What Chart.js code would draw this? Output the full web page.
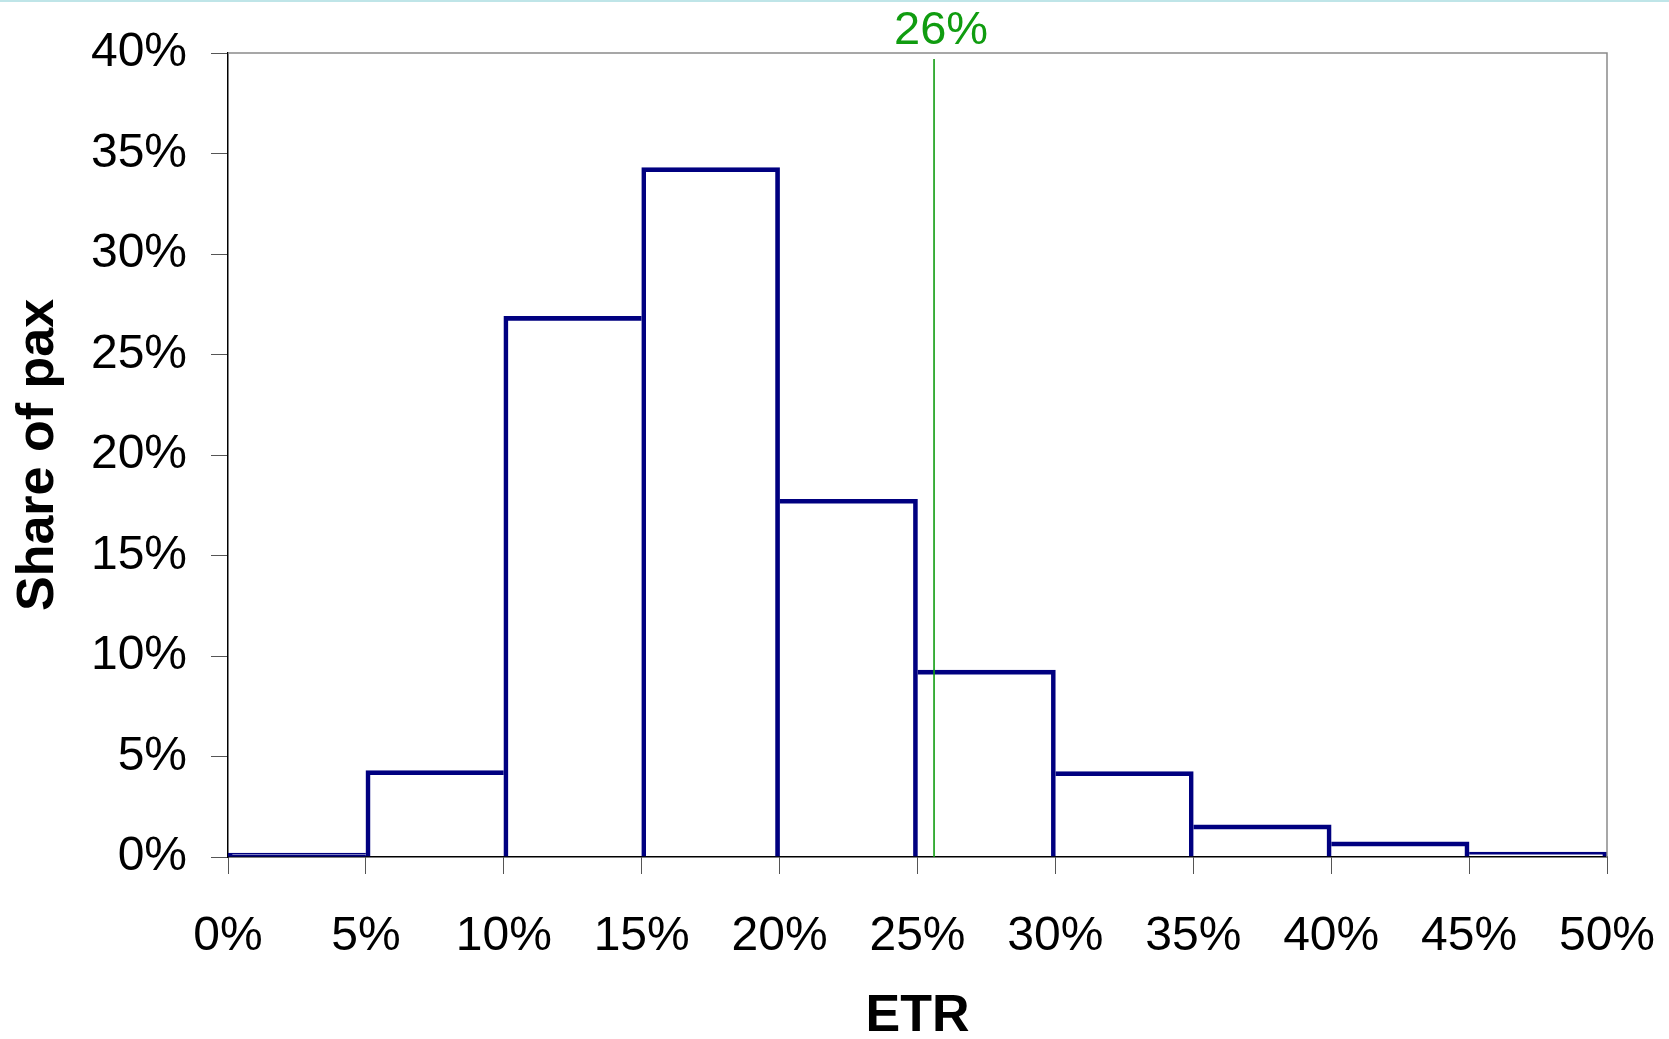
<!DOCTYPE html>
<html>
<head>
<meta charset="utf-8">
<script src="https://cdn.jsdelivr.net/npm/chart.js@4.4.1/dist/chart.umd.min.js"></script>
<style>
  html, body { margin: 0; padding: 0; background: #fff; }
  #wrap { width: 1669px; height: 1039px; position: relative; }
</style>
</head>
<body>
<div id="wrap"><canvas id="etrChart" width="1669" height="1039"></canvas></div>
<script>
// histogram bins (ETR, %), each 5 points wide
const binStarts = [0, 5, 10, 15, 20, 25, 30, 35, 40, 45];
const binWidth = 5;
const shares = [0, 4.3, 26.9, 34.3, 17.8, 9.3, 4.25, 1.6, 0.75, 0.25];

// average ETR marker
const etrMarker = 25.6;
const etrMarkerLabel = "26%";

const navy = "#000080";
const green = "#109c10";
const font = "'Liberation Sans', Arial, sans-serif";

const barPoints = binStarts.map((s, i) => ({ x: s + binWidth / 2, y: shares[i] }));

const frameAndLabel = {
  id: "frameAndLabel",
  afterDraw(chart) {
    const { ctx, chartArea } = chart;
    ctx.save();
    // thin cyan strip on top of the slide
    ctx.fillStyle = "#bfe5e8";
    ctx.fillRect(0, 0, chart.width, 2);
    // gray top and right frame
    ctx.strokeStyle = "#8a8a8a";
    ctx.lineWidth = 1.5;
    ctx.beginPath();
    ctx.moveTo(chartArea.left, chartArea.top);
    ctx.lineTo(chartArea.right, chartArea.top);
    ctx.lineTo(chartArea.right, chartArea.bottom);
    ctx.stroke();
    // marker label
    const x = chart.scales.x.getPixelForValue(etrMarker);
    ctx.fillStyle = green;
    ctx.font = "47px " + font;
    ctx.textAlign = "center";
    ctx.textBaseline = "middle";
    ctx.fillText(etrMarkerLabel, x + 7, 31);
    ctx.restore();
  },
};

new Chart(document.getElementById("etrChart"), {
  type: "bar",
  plugins: [frameAndLabel],
  data: {
    datasets: [
      {
        type: "line",
        data: [
          { x: etrMarker, y: 0 },
          { x: etrMarker, y: 39.7 },
        ],
        borderColor: green,
        borderWidth: 1.6,
        pointRadius: 0,
        order: 0,
      },
      {
        data: barPoints,
        backgroundColor: "rgba(0,0,0,0)",
        borderColor: navy,
        minBarLength: 4,
        borderWidth: (ctx) => {
          const i = ctx.dataIndex;
          const v = shares[i];
          const prev = i > 0 ? shares[i - 1] : -1;
          const next = i < shares.length - 1 ? shares[i + 1] : -1;
          return {
            top: 4,
            left: prev < v ? 4 : 0,
            right: next < v ? 4 : 0,
            bottom: v === 0 ? 4 : 0,
          };
        },
        borderSkipped: false,
        barPercentage: 1,
        categoryPercentage: 1,
        order: 1,
      },
    ],
  },
  options: {
    responsive: false,
    animation: false,
    layout: { padding: { top: 53, right: 62, left: 0, bottom: 0 } },
    plugins: { legend: { display: false }, tooltip: { enabled: false } },
    scales: {
      x: {
        type: "linear",
        min: 0,
        max: 50,
        offset: false,
        afterFit: (s) => {
          s.height = 182;
          s.paddingLeft = 0;
          s.paddingRight = 0;
        },
        ticks: {
          stepSize: 5,
          color: "#000",
          padding: 34,
          maxRotation: 0,
          font: { size: 48, family: font },
          callback: (v) => v + "%",
        },
        grid: { offset: false, drawOnChartArea: false, drawTicks: true, tickLength: 17, color: "#555" },
        border: { display: true, color: "#000", width: 1.5 },
        title: {
          display: true,
          text: "ETR",
          color: "#000",
          padding: { top: 0, bottom: 0 },
          font: { size: 52, weight: "bold", family: font, lineHeight: 0.85 },
        },
      },
      y: {
        min: 0,
        max: 40,
        afterFit: (s) => { s.width = 228; },
        ticks: {
          stepSize: 5,
          color: "#000",
          padding: 24,
          font: { size: 48, family: font },
          callback: (v) => v + "%",
        },
        grid: { drawOnChartArea: false, drawTicks: true, tickLength: 17, color: "#555" },
        border: { display: true, color: "#000", width: 1.5 },
        title: {
          display: true,
          text: "Share of pax",
          color: "#000",
          padding: { top: 13, bottom: 0 },
          font: { size: 52, weight: "bold", family: font, lineHeight: 1 },
        },
      },
    },
  },
});
</script>
</body>
</html>
